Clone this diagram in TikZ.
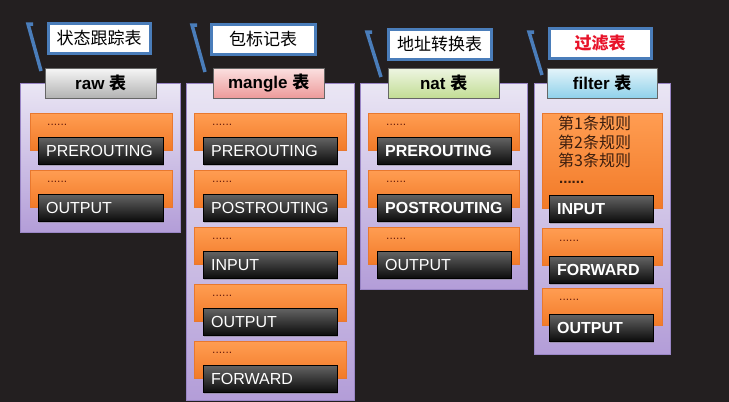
\documentclass[tikz,border=0pt]{standalone}
\usepackage{fontspec}
\setmainfont{Liberation Sans}
\newfontfamily\cjk{Noto Sans CJK SC}
\usetikzlibrary{shadows}

\definecolor{bgDark}{HTML}{231F20}
\definecolor{panelTop}{HTML}{EAE6F4}
\definecolor{panelBot}{HTML}{B39DD8}
\definecolor{panelEdge}{HTML}{9A86C6}
\definecolor{rowTop}{HTML}{FF9D52}
\definecolor{rowBot}{HTML}{F27A28}
\definecolor{rowEdge}{HTML}{E8782E}
\definecolor{chainTop}{HTML}{646464}
\definecolor{chainBot}{HTML}{0C0C0C}
\definecolor{tagBlue}{HTML}{4A7DBA}
\definecolor{dotRed}{HTML}{6A1E0C}
\definecolor{ruleText}{HTML}{3C1E0E}
\definecolor{filterRed}{HTML}{E8132A}
\definecolor{rawTop}{HTML}{F6F6F6}
\definecolor{rawBot}{HTML}{B2B2B2}
\definecolor{mangleTop}{HTML}{FBE0E0}
\definecolor{mangleBot}{HTML}{EC9A9A}
\definecolor{natTop}{HTML}{EEF5E2}
\definecolor{natBot}{HTML}{C2DD94}
\definecolor{filterTop}{HTML}{E4F4FA}
\definecolor{filterBot}{HTML}{8FD1EA}

\begin{document}
\begin{tikzpicture}[x=1pt, y=-1pt,
    panel/.style={rectangle, draw=panelEdge, top color=panelTop, bottom color=panelBot, anchor=north west, inner sep=0pt},
    tableHd/.style={rectangle, draw=black!60, anchor=north west, minimum height=30pt, inner sep=0pt, font=\fontsize{17}{20}\selectfont\bfseries},
    tag/.style={rectangle, draw=tagBlue, line width=3.2pt, fill=white, anchor=north west, minimum height=30pt, inner sep=0pt, font=\cjk\fontsize{17}{20}\selectfont},
    rowBox/.style={rectangle, draw=rowEdge, top color=rowTop, bottom color=rowBot, anchor=north west, minimum height=37pt, inner sep=0pt},
    chain/.style={rectangle, draw=black, top color=chainTop, bottom color=chainBot, text=white, anchor=north west, minimum height=27pt, inner xsep=8pt, inner ysep=0pt, align=left, font=\fontsize{16}{18}\selectfont, drop shadow={opacity=0.45, shadow xshift=1pt, shadow yshift=-2pt}},
    dots/.style={anchor=west, inner sep=0pt, text=dotRed, font=\fontsize{12}{14}\selectfont},
    pointer/.style={draw=tagBlue, line width=3.5pt}]

    \useasboundingbox[fill=bgDark] (0,0) rectangle (729,402);

    % raw table
    \node[panel, minimum width=160pt, minimum height=149pt] (P1) at (20,83) {};
    \node[rowBox, minimum width=142pt] (R11) at (30,113) {};
    \node[dots] (D11) at (47,125) {......};
    \node[chain, text width=109pt] (C11) at (38,137) {PREROUTING};
    \node[rowBox, minimum width=142pt] (R12) at (30,170) {};
    \node[dots] (D12) at (47,182) {......};
    \node[chain, text width=109pt] (C12) at (38,194) {OUTPUT};
    \node[tableHd, minimum width=111pt, top color=rawTop, bottom color=rawBot] (H1) at (45,68) {raw {\cjk 表}};
    \node[tag, minimum width=102pt] (T1) at (46.5,21.5) {状态跟踪表};
    \coordinate (L1) at (28,24);
    \draw[pointer] ([xshift=5pt]L1) -- (L1) -- ([xshift=-4pt,yshift=-3pt]H1.north west);

    % mangle table
    \node[panel, minimum width=168pt, minimum height=317pt] (P2) at (186,83) {};
    \node[rowBox, minimum width=152pt] (R21) at (194,113) {};
    \node[dots] (D21) at (212,125) {......};
    \node[chain, text width=118pt] (C21) at (203,137) {PREROUTING};
    \node[rowBox, minimum width=152pt] (R22) at (194,170) {};
    \node[dots] (D22) at (212,182) {......};
    \node[chain, text width=118pt] (C22) at (203,194) {POSTROUTING};
    \node[rowBox, minimum width=152pt] (R23) at (194,227) {};
    \node[dots] (D23) at (212,239) {......};
    \node[chain, text width=118pt] (C23) at (203,251) {INPUT};
    \node[rowBox, minimum width=152pt] (R24) at (194,284) {};
    \node[dots] (D24) at (212,296) {......};
    \node[chain, text width=118pt] (C24) at (203,308) {OUTPUT};
    \node[rowBox, minimum width=152pt] (R25) at (194,341) {};
    \node[dots] (D25) at (212,353) {......};
    \node[chain, text width=118pt] (C25) at (203,365) {FORWARD};
    \node[tableHd, minimum width=111pt, top color=mangleTop, bottom color=mangleBot] (H2) at (213,68) {mangle {\cjk 表}};
    \node[tag, minimum width=104pt] (T2) at (209.5,22.5) {包标记表};
    \coordinate (L2) at (192,25);
    \draw[pointer] ([xshift=5pt]L2) -- (L2) -- ([xshift=-8pt,yshift=-4pt]H2.north west);

    % nat table
    \node[panel, minimum width=167pt, minimum height=206pt] (P3) at (360,83) {};
    \node[rowBox, minimum width=151pt] (R31) at (368,113) {};
    \node[dots] (D31) at (386,125) {......};
    \node[chain, text width=118pt, font=\fontsize{16}{18}\selectfont\bfseries] (C31) at (377,137) {PREROUTING};
    \node[rowBox, minimum width=151pt] (R32) at (368,170) {};
    \node[dots] (D32) at (386,182) {......};
    \node[chain, text width=118pt, font=\fontsize{16}{18}\selectfont\bfseries] (C32) at (377,194) {POSTROUTING};
    \node[rowBox, minimum width=151pt] (R33) at (368,227) {};
    \node[dots] (D33) at (386,239) {......};
    \node[chain, text width=118pt] (C33) at (377,251) {OUTPUT};
    \node[tableHd, minimum width=111pt, top color=natTop, bottom color=natBot] (H3) at (388,68) {nat {\cjk 表}};
    \node[tag, minimum width=103pt] (T3) at (386.5,27.5) {地址转换表};
    \coordinate (L3) at (367,32);
    \draw[pointer] ([xshift=5pt]L3) -- (L3) -- ([xshift=-7pt,yshift=-9pt]H3.north west);

    % filter table
    \node[panel, minimum width=136pt, minimum height=271pt] (P4) at (534,83) {};
    \node[rowBox, minimum width=120pt, minimum height=95pt] (R41) at (542,113) {};
    \node[anchor=north west, inner sep=0pt, align=left, text=ruleText, font=\cjk\fontsize{16}{18.5}\selectfont] (RL) at (558,116) {第1条规则\\第2条规则\\第3条规则};
    \node[dots, text=ruleText, font=\fontsize{15}{16}\selectfont\bfseries] (D41) at (559,182) {......};
    \node[chain, text width=88pt, font=\fontsize{16}{18}\selectfont\bfseries] (C41) at (549,195) {INPUT};
    \node[rowBox, minimum width=120pt] (R42) at (542,228) {};
    \node[dots] (D42) at (559,241) {......};
    \node[chain, text width=88pt, font=\fontsize{16}{18}\selectfont\bfseries] (C42) at (549,256) {FORWARD};
    \node[rowBox, minimum width=120pt] (R43) at (542,288) {};
    \node[dots] (D43) at (559,300) {......};
    \node[chain, text width=88pt, font=\fontsize{16}{18}\selectfont\bfseries] (C43) at (549,314) {OUTPUT};
    \node[tableHd, minimum width=110pt, top color=filterTop, bottom color=filterBot] (H4) at (547,68) {filter {\cjk 表}};
    \node[tag, minimum width=102pt, text=filterRed, font=\cjk\fontsize{17}{20}\selectfont\bfseries] (T4) at (547.5,26.5) {过滤表};
    \coordinate (L4) at (529,32);
    \draw[pointer] ([xshift=5pt]L4) -- (L4) -- ([xshift=-5pt,yshift=-7pt]H4.north west);

\end{tikzpicture}
\end{document}
